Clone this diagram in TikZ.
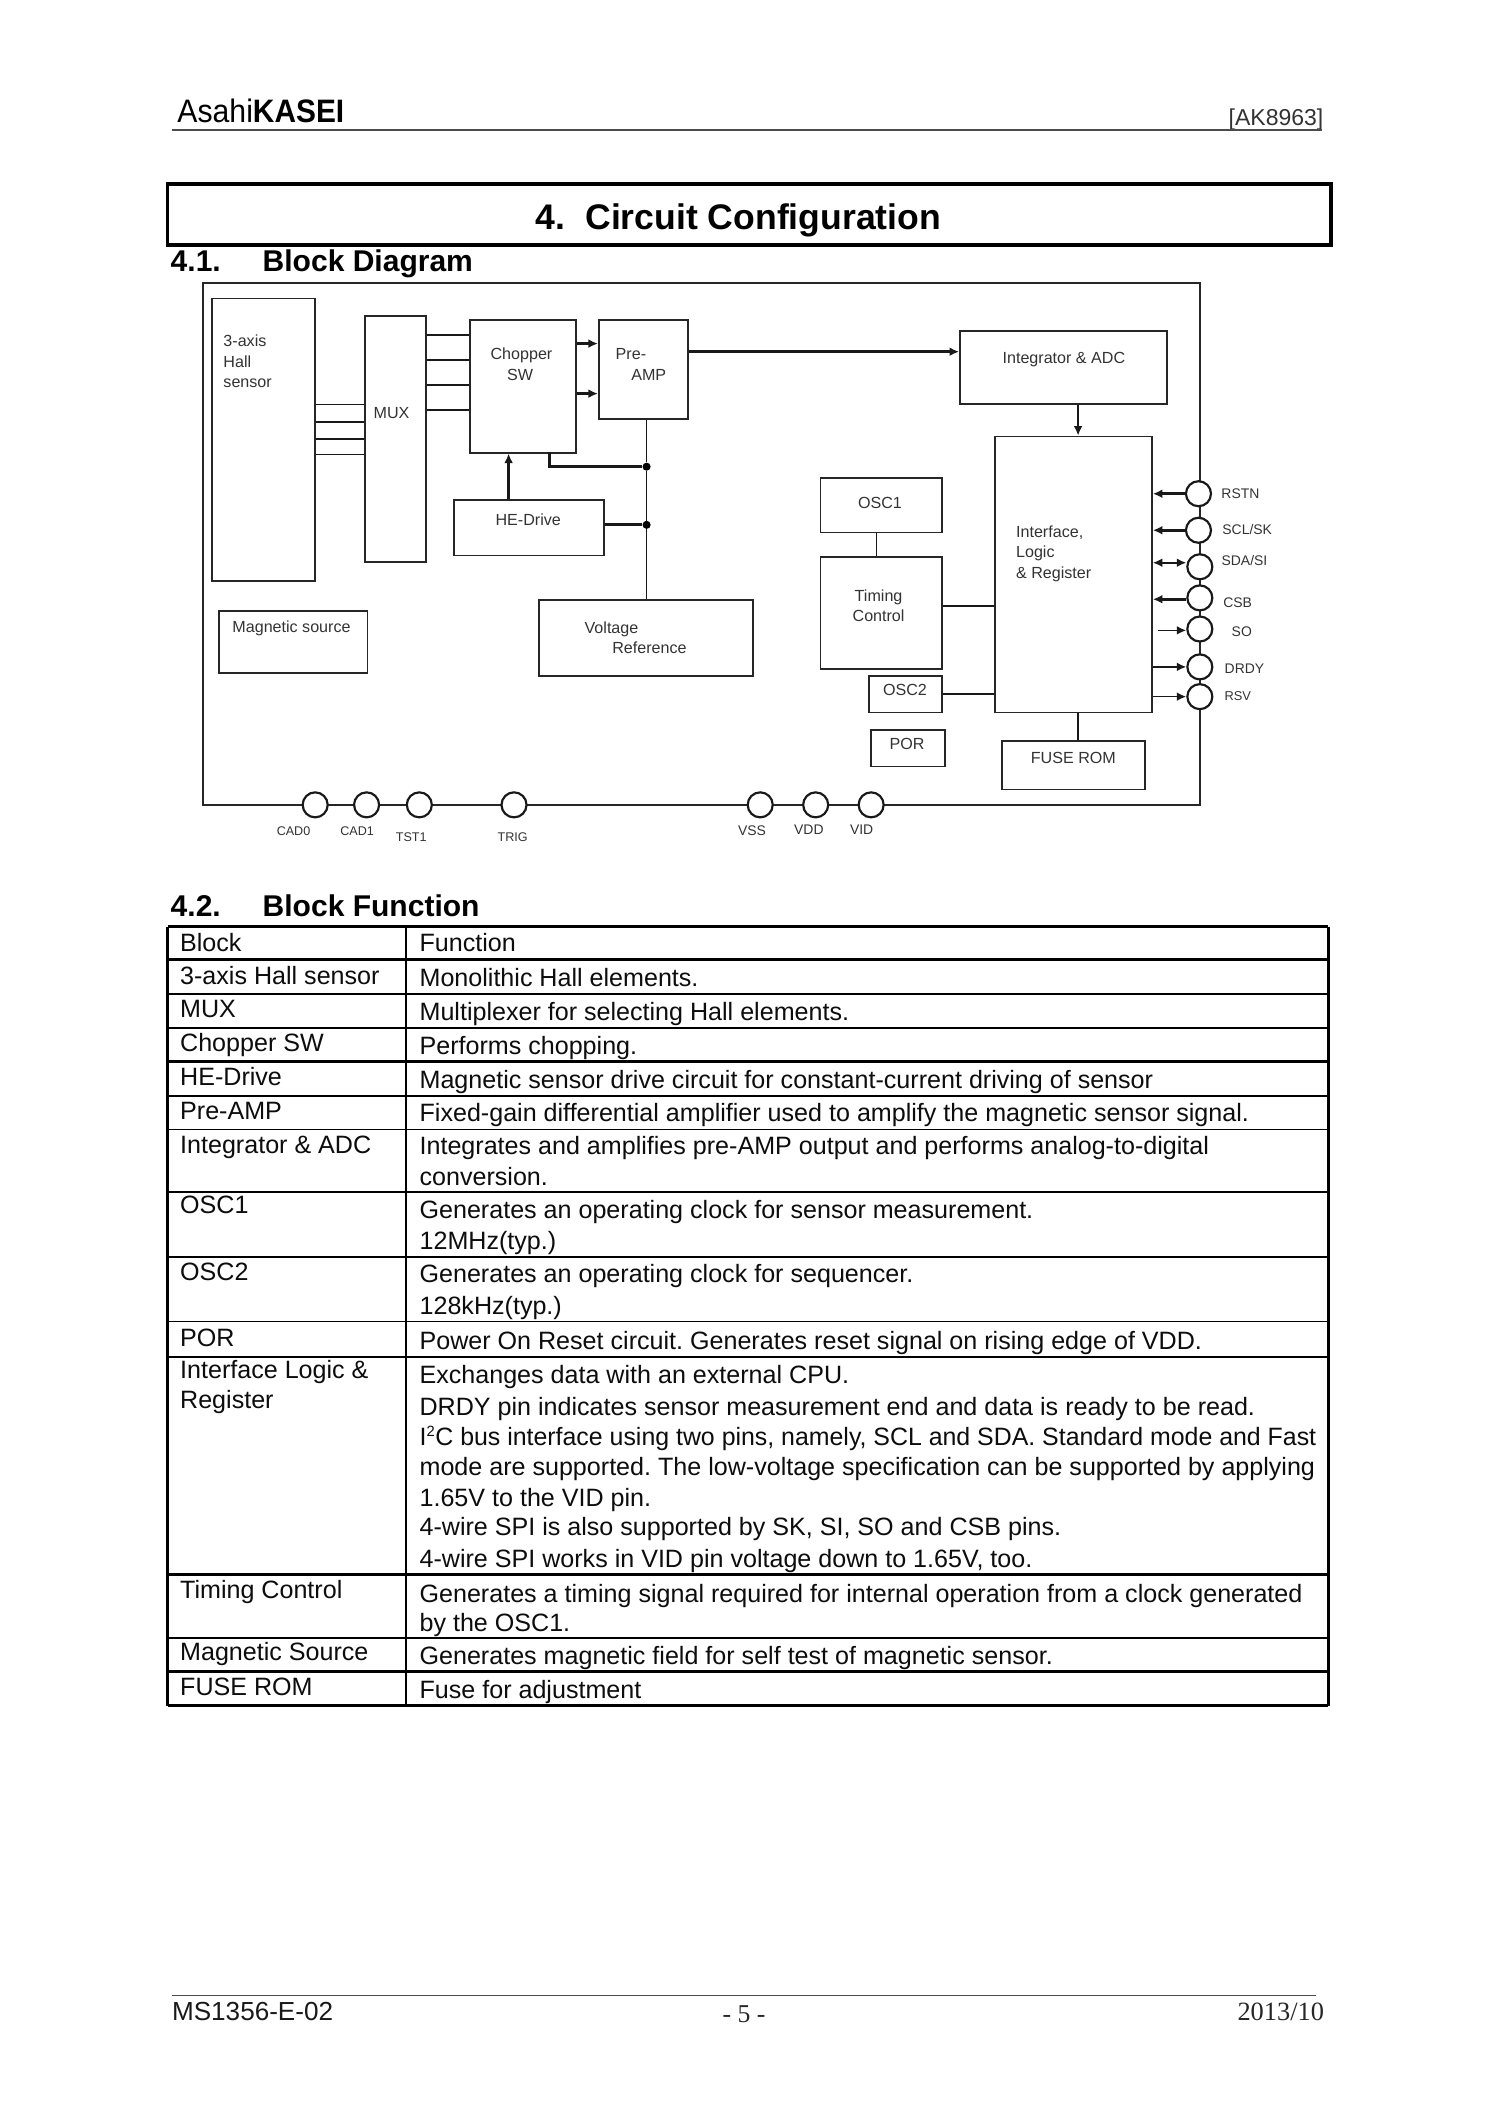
\documentclass[tikz,border=0pt]{standalone}
\usepackage{fontspec}
\setmainfont{Liberation Sans}
\newfontfamily\serifx{Liberation Serif}
\usetikzlibrary{arrows.meta}
\newcommand{\fs}[2]{\fontsize{#1}{#2}\selectfont}
\frenchspacing
\tikzset{
  blk/.style={draw=black!85,line width=1.3pt,rectangle,inner sep=0pt,anchor=north west},
  lbl/.style={inner sep=0pt,text=black!80,font=\fs{11.9}{15},anchor=mid,yshift=-1.8pt},
  lbll/.style={lbl,anchor=mid west},
  pinlbl/.style={inner sep=0pt,text=black!80,font=\fs{10.3}{12},anchor=mid,yshift=-1.2pt},
  pin/.style={circle,draw=black!90,line width=1.6pt,fill=white,minimum size=18.5pt,inner sep=0pt},
  wire/.style={draw=black!90,line width=1.2pt},
  wiret/.style={draw=black!90,line width=2pt},
  arr/.style={-{Latex[length=7pt,width=6.5pt]}},
  darr/.style={{Latex[length=7pt,width=6.5pt]}-{Latex[length=7pt,width=6.5pt]}},
  dotj/.style={circle,fill=black,minimum size=6pt,inner sep=0pt},
  cellt/.style={inner sep=0pt,anchor=mid west,font=\fs{18.55}{20},text=black!95,yshift=-3.8pt},
  rule/.style={draw=black,line width=1.3pt},
  ruleb/.style={draw=black,line width=2.2pt},
  head/.style={inner sep=0pt,anchor=mid west,font=\fs{22.2}{24}\bfseries,yshift=-4.5pt},
}
\begin{document}
\begin{tikzpicture}[x=1pt,y=-1pt]
\useasboundingbox (0,0) rectangle (1109,1568);
\fill[white] (0,0) rectangle (1109,1568);
% header
\node[inner sep=0pt,anchor=mid west] (logo) at (131,88) {\fs{24}{25}\scalebox{.93}[1]{Asahi}\scalebox{.92}[1]{\bfseries KASEI}};
\node[inner sep=0pt,anchor=mid east,font=\fs{17}{18},text=black!80] (part) at (978.5,90) {[AK8963]};
\coordinate (hl) at (127,96); \coordinate (hr) at (977,96);
\draw[draw=black!70,line width=1.1pt] (hl) -- (hr);
\node[draw=black,line width=2.8pt,rectangle,inner sep=0pt,anchor=north west,minimum width=860pt,minimum height=45pt] (titlebox) at (122.5,134.5) {};
\node[inner sep=0pt,font=\fs{26.3}{28}\bfseries] (title) at (546,163) {4.\ \ Circuit Configuration};
\node[head] (h41a) at (126,193.5) {4.1.};
\node[head] (h41b) at (194,193.5) {Block Diagram};
\node[head] (h42a) at (126,670.5) {4.2.};
\node[head] (h42b) at (194,670.5) {Block Function};
% frame
\node[draw=black!85,line width=1.3pt,rectangle,inner sep=0pt,anchor=north west,minimum width=737pt,minimum height=386pt] (frame) at (149.7,208.7) {};
% blocks
\node[blk,minimum width=76pt,minimum height=209pt] (hall) at (156,220) {};
\node[blk,minimum width=45pt,minimum height=182pt] (mux) at (269,233) {};
\node[blk,minimum width=78pt,minimum height=98pt] (chop) at (347,236) {};
\node[blk,minimum width=66pt,minimum height=73pt] (pre) at (442,236) {};
\node[blk,minimum width=153pt,minimum height=54pt] (intg) at (709,244) {};
\node[blk,minimum width=116pt,minimum height=204pt] (iface) at (735,322) {};
\node[blk,minimum width=90pt,minimum height=40pt] (osca) at (606,353) {};
\node[blk,minimum width=90pt,minimum height=83pt] (timing) at (606,411) {};
\node[blk,minimum width=54pt,minimum height=27pt] (oscb) at (642,499) {};
\node[blk,minimum width=55pt,minimum height=27pt] (por) at (643,539) {};
\node[blk,minimum width=106pt,minimum height=36pt] (fuse) at (740,547) {};
\node[blk,minimum width=110pt,minimum height=46pt] (mag) at (161,451) {};
\node[blk,minimum width=111pt,minimum height=41pt] (hed) at (335,369) {};
\node[blk,minimum width=158pt,minimum height=56pt] (vref) at (398,443) {};
% labels
\node[lbll] (t1a) at (165,252) {3-axis};
\node[lbll] (t1b) at (165,267) {Hall};
\node[lbll] (t1c) at (165,282) {sensor};
\node[lbll] (t2) at (276,305) {MUX};
\node[lbl] (t3a) at (385.5,261) {Chopper};
\node[lbl] (t3b) at (384.5,277) {SW};
\node[lbll] (t4a) at (455,261) {Pre-};
\node[lbll] (t4b) at (466.5,277) {AMP};
\node[lbl] (t5) at (786.5,264) {Integrator \& ADC};
\node[lbll] (t6a) at (751,393) {Interface,};
\node[lbll] (t6b) at (751,408) {Logic};
\node[lbll] (t6c) at (751,423) {\& Register};
\node[lbl] (t7) at (650.5,371.5) {OSC1};
\node[lbl] (t8a) at (649.5,440) {Timing};
\node[lbl] (t8b) at (649.5,455) {Control};
\node[lbl] (t9) at (669,510) {OSC2};
\node[lbl] (t10) at (670.5,550) {POR};
\node[lbl] (t11) at (793.5,560) {FUSE ROM};
\node[lbl] (t12) at (215.5,463) {Magnetic source};
\node[lbl] (t13) at (390.5,384) {HE-Drive};
\node[lbll] (t14a) at (432,464) {Voltage};
\node[lbll] (t14b) at (452.5,479) {Reference};
% wires
\foreach \y in {299,312,336} \draw[wire] (hall.east |- 0,\y) -- (mux.west |- 0,\y);
\draw[wiret] (hall.east |- 0,324.5) -- (mux.west |- 0,324.5);
\foreach \y in {247.5,266,284.5,303} \draw[wire] (mux.east |- 0,\y) -- (chop.west |- 0,\y);
\draw[wiret,arr] (chop.east |- 0,254) -- (pre.west |- 0,254);
\draw[wiret,arr] (chop.east |- 0,291) -- (pre.west |- 0,291);
\draw[wiret,arr] (pre.east |- 0,260) -- (intg.west |- 0,260);
\node[dotj] (ja) at (478,345) {};
\node[dotj] (jb) at (478,388) {};
\draw[wire] (pre.south -| ja) -- (ja) -- (jb) -- (vref.north -| jb);
\coordinate (cs) at (406,334);
\draw[wiret] (cs) |- (ja);
\draw[wiret] (hed.east |- jb) -- (jb);
\draw[wiret,arr] (hed.north -| 376,0) -- (chop.south -| 376,0);
\draw[wiret,arr] (intg.south -| 797,0) -- (iface.north -| 797,0);
\draw[wiret] (iface.south -| 797,0) -- (fuse.north -| 797,0);
\draw[wire] (osca.south -| 648,0) -- (timing.north -| 648,0);
\draw[wire] (timing.east |- 0,448) -- (iface.west |- 0,448);
\draw[wire] (oscb.east) -- (iface.west |- oscb.east);
% pins
\node[pin] (rstn) at (886,365) {};
\node[pin] (scl) at (886,392) {};
\node[pin] (sda) at (887,419) {};
\node[pin] (csb) at (887,442) {};
\node[pin] (so) at (887,465) {};
\node[pin] (drdy) at (887,493) {};
\node[pin] (rsv) at (887,515) {};
\node[pin] (cad0) at (233,595) {};
\node[pin] (cad1) at (271,595) {};
\node[pin] (tst1) at (310,595) {};
\node[pin] (trig) at (380,595) {};
\node[pin] (vss) at (562,595) {};
\node[pin] (vdd) at (603,595) {};
\node[pin] (vid) at (644,595) {};
\draw[wiret,arr] (rstn.west) -- (iface.east |- rstn.west);
\draw[wiret,arr] (scl.west) -- (iface.east |- scl.west);
\draw[wire,darr] (iface.east |- 0,416) -- (sda.west |- 0,416);
\draw[wiret,arr] (csb.west |- 0,443) -- (iface.east |- 0,443);
\draw[wire,arr] (856,466) -- (so.west |- 0,466);
\draw[wire,arr] (iface.east |- drdy.west) -- (drdy.west);
\draw[wire,arr] (iface.east |- rsv.west) -- (rsv.west);
\node[pinlbl] (l1) at (917,365) {RSTN};
\node[pinlbl] (l2) at (922,391) {SCL/SK};
\node[pinlbl] (l3) at (920,414) {SDA/SI};
\node[pinlbl] (l4) at (915,445) {CSB};
\node[pinlbl] (l5) at (918,467) {SO};
\node[pinlbl] (l6) at (920,494) {DRDY};
\node[pinlbl,font=\fs{9.5}{11}] (l7) at (915,514) {RSV};
\node[pinlbl,font=\fs{9.3}{11}] (l8) at (217,614) {CAD0};
\node[pinlbl,font=\fs{9.3}{11}] (l9) at (264,614) {CAD1};
\node[pinlbl,font=\fs{9.3}{11}] (l10) at (304,618) {TST1};
\node[pinlbl,font=\fs{9.3}{11}] (l11) at (379,618) {TRIG};
\node[pinlbl] (l12) at (556,614) {VSS};
\node[pinlbl] (l13) at (598,613) {VDD};
\node[pinlbl] (l14) at (637,613) {VID};
% table rules
\coordinate (tl) at (124,685); \coordinate (tm) at (300,685); \coordinate (tr) at (982,685);
\foreach \y in {735,760,810,835,881,929,977,1003,1211} \draw[rule] (tl |- 0,\y) -- (tr |- 0,\y);
\foreach \y in {685,709,785,1164,1236,1261} \draw[ruleb] (tl |- 0,\y) -- (tr |- 0,\y);
\draw[ruleb] (tl) -- (tl |- 0,1261);
\draw[rule] (tm) -- (tm |- 0,1261);
\draw[ruleb] (tr) -- (tr |- 0,1261);
% table left
\node[cellt] (a1) at (133,697) {Block};
\node[cellt] (a2) at (133,721) {3-axis Hall sensor};
\node[cellt] (a3) at (133,746) {MUX};
\node[cellt] (a4) at (133,771) {Chopper SW};
\node[cellt] (a5) at (133,796) {HE-Drive};
\node[cellt] (a6) at (133,821) {Pre-AMP};
\node[cellt] (a7) at (133,846) {Integrator \& ADC};
\node[cellt] (a8) at (133,891) {OSC1};
\node[cellt] (a9) at (133,940) {OSC2};
\node[cellt] (a10) at (133,989) {POR};
\node[cellt] (a11) at (133,1013) {Interface Logic \&};
\node[cellt] (a12) at (133,1035) {Register};
\node[cellt] (a13) at (133,1175) {Timing Control};
\node[cellt] (a14) at (133,1221) {Magnetic Source};
\node[cellt] (a15) at (133,1247) {FUSE ROM};
% table right
\node[cellt] (b1) at (310,697) {Function};
\node[cellt] (b2) at (310,723) {Monolithic Hall elements.};
\node[cellt] (b3) at (310,748) {Multiplexer for selecting Hall elements.};
\node[cellt] (b4) at (310,773) {Performs chopping.};
\node[cellt] (b5) at (310,798) {Magnetic sensor drive circuit for constant-current driving of sensor};
\node[cellt] (b6) at (310,823) {Fixed-gain differential amplifier used to amplify the magnetic sensor signal.};
\node[cellt] (b7) at (310,847) {Integrates and amplifies pre-AMP output and performs analog-to-digital};
\node[cellt] (b8) at (310,870) {conversion.};
\node[cellt] (b9) at (310,894) {Generates an operating clock for sensor measurement.};
\node[cellt] (b10) at (310,917) {12MHz(typ.)};
\node[cellt] (b11) at (310,942) {Generates an operating clock for sequencer.};
\node[cellt] (b12) at (310,965) {128kHz(typ.)};
\node[cellt] (b13) at (310,991) {Power On Reset circuit. Generates reset signal on rising edge of VDD.};
\node[cellt] (b14) at (310,1016) {Exchanges data with an external CPU.};
\node[cellt] (b15) at (310,1040) {DRDY pin indicates sensor measurement end and data is ready to be read.};
\node[cellt] (b16) at (310,1062) {\scalebox{.992}[1]{I\textsuperscript{\fs{11}{12}2}C bus interface using two pins, namely, SCL and SDA. Standard mode and Fast}};
\node[cellt] (b17) at (310,1084) {mode are supported. The low-voltage specification can be supported by applying};
\node[cellt] (b18) at (310,1107) {1.65V to the VID pin.};
\node[cellt] (b19) at (310,1129) {4-wire SPI is also supported by SK, SI, SO and CSB pins.};
\node[cellt] (b20) at (310,1152) {4-wire SPI works in VID pin voltage down to 1.65V, too.};
\node[cellt] (b21) at (310,1178) {Generates a timing signal required for internal operation from a clock generated};
\node[cellt] (b22) at (310,1200) {by the OSC1.};
\node[cellt] (b23) at (310,1224) {Generates magnetic field for self test of magnetic sensor.};
\node[cellt] (b24) at (310,1249) {Fuse for adjustment};
% footer
\coordinate (fl) at (127,1475); \coordinate (fr) at (973,1475);
\draw[draw=black!70,line width=1pt] (fl) -- (fr);
\node[inner sep=0pt,anchor=mid west,font=\fs{19.3}{21},text=black!90] (f1) at (127,1491) {MS1356-E-02};
\node[inner sep=0pt,font=\serifx\fs{19}{20},text=black!85] (f2) at (550,1489) {- 5 -};
\node[inner sep=0pt,anchor=mid east,font=\serifx\fs{19.5}{21},text=black!85] (f3) at (979,1491) {2013/10};
\end{tikzpicture}
\end{document}
